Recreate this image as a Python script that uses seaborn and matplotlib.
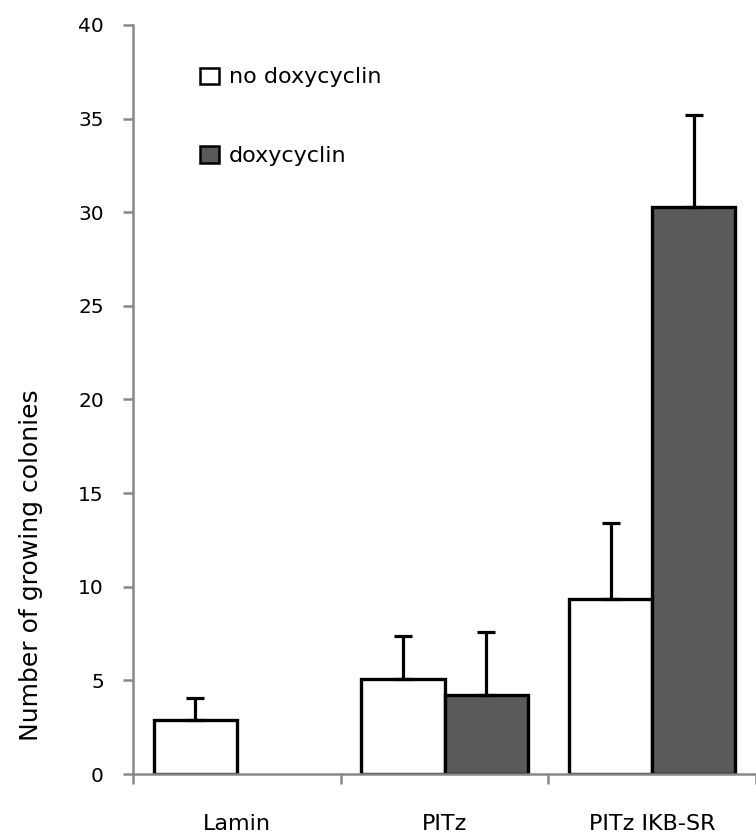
import numpy as np
import pandas as pd
import matplotlib
matplotlib.use("Agg")
import matplotlib.pyplot as plt
import seaborn as sns
from matplotlib.patches import Patch

# Colony counts per cell line, with and without doxycyclin (mean and upper error)
cell_lines = ["Lamin", "PITz", "PITz IKB-SR"]
conditions = ["no doxycyclin", "doxycyclin"]
no_dox_mean = [2.9, 5.1, 9.35]
no_dox_err = [1.15, 2.25, 4.05]
dox_mean = [np.nan, 4.2, 30.3]
dox_err = [np.nan, 3.4, 4.9]
y_ticks = [0, 5, 10, 15, 20, 25, 30, 35, 40]

rows = []
for cond, means, errs in zip(conditions, [no_dox_mean, dox_mean], [no_dox_err, dox_err]):
    for line, m, e in zip(cell_lines, means, errs):
        if not np.isnan(m):
            rows.append({"cell_line": line, "condition": cond, "colonies": m, "err": e})
df = pd.DataFrame(rows)

sns.set_style("white")
plt.rcParams["font.family"] = ["DejaVu Sans"]
plt.rcParams["text.color"] = "black"
plt.rcParams["axes.labelcolor"] = "black"
plt.rcParams["xtick.labelcolor"] = "black"
plt.rcParams["ytick.labelcolor"] = "black"

colors = {"no doxycyclin": "white", "doxycyclin": "#5a5a5a"}
axis_gray = "#888888"

fig = plt.figure(figsize=(7.56, 8.4), dpi=100)
ax = fig.add_axes([133 / 756, 66 / 840, 623 / 756, 749 / 840])

sns.barplot(data=df, x="cell_line", y="colonies", hue="condition",
            order=cell_lines, hue_order=conditions, palette=colors,
            saturation=1, edgecolor="black", linewidth=2.4, width=0.8,
            errorbar=None, legend=False, ax=ax)

# upper-only error bars at the centre of each drawn bar
for container, cond in zip(ax.containers, conditions):
    sub = df[df["condition"] == cond].set_index("cell_line")
    present = [c for c in cell_lines if c in sub.index]
    for bar, line in zip(container, present):
        xc = bar.get_x() + bar.get_width() / 2
        val = sub.loc[line, "colonies"]
        err = sub.loc[line, "err"]
        ax.errorbar(xc, val, yerr=[[0], [err]], fmt="none", ecolor="black",
                    elinewidth=2.3, capsize=6.5, capthick=2.3, zorder=1)

ax.set_ylim(0, 40)
ax.set_yticks(y_ticks)
ax.set_xlim(-0.5, 2.48)

for side in ["top", "right"]:
    ax.spines[side].set_visible(False)
for side in ["left", "bottom"]:
    ax.spines[side].set_color(axis_gray)
    ax.spines[side].set_linewidth(1.8)

ax.tick_params(axis="y", which="major", direction="out", length=7, width=1.8,
               color=axis_gray, labelsize=14.5, pad=14, left=True)
ax.set_xticks([-0.5, 0.5, 1.5, 2.5], minor=True)
ax.tick_params(axis="x", which="minor", direction="out", length=7, width=1.8,
               color=axis_gray, bottom=True)
ax.tick_params(axis="x", which="major", length=0, labelsize=16, pad=29)

ax.set_xlabel("")
ax.set_ylabel("Number of growing colonies", fontsize=18)
ax.yaxis.set_label_coords(-0.145, 0.279)

handles = [Patch(facecolor=colors[c], edgecolor="black", linewidth=1.8) for c in conditions]
ax.legend(handles, conditions, loc="upper left", bbox_to_anchor=(0.075, 0.97),
          frameon=False, fontsize=16, labelspacing=2.65, handlelength=0.85,
          handleheight=0.75, handletextpad=0.45)

fig.savefig("out.png", dpi=100)
